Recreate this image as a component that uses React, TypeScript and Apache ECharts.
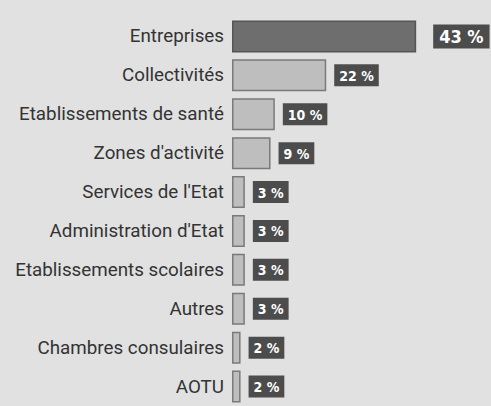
import React, { useEffect, useRef } from "react";
import * as echarts from "echarts";

const categories = [
  "Entreprises",
  "Collectivités",
  "Etablissements de santé",
  "Zones d'activité",
  "Services de l'Etat",
  "Administration d'Etat",
  "Etablissements scolaires",
  "Autres",
  "Chambres consulaires",
  "AOTU",
];
const values = [43, 22, 10, 9, 3, 3, 3, 3, 2, 2];

export default function App() {
  const ref = useRef<HTMLDivElement>(null);
  useEffect(() => {
    document.body.style.margin = "0";
    const chart = echarts.init(ref.current!, null, { renderer: "svg" });
    const catRev = [...categories].reverse();
    const valRev = [...values].reverse();
    const maxVal = Math.max(...values);
    const font = "'DejaVu Sans Condensed', 'Noto Sans', sans-serif";
    chart.setOption({
      animation: false,
      backgroundColor: "#e1e1e1",
      grid: { left: 232, width: 257, top: 17, bottom: -5 },
      xAxis: { type: "value", min: 0, max: 60, show: false },
      yAxis: {
        type: "category",
        data: catRev,
        axisLine: { show: false },
        axisTick: { show: false },
        axisLabel: {
          margin: 8,
          color: "#333333",
          fontSize: 18.8,
          fontFamily: "Roboto, 'Noto Sans', sans-serif",
        },
      },
      series: [
        {
          type: "bar",
          barWidth: 32,
          data: valRev.map((v) => {
            const first = v === maxVal;
            return {
              value: v,
              itemStyle: {
                color: first ? "#6e6e6e" : "#bebebe",
                borderColor: first ? "#555555" : "#7a7a7a",
                borderWidth: 1.5,
              },
              label: { distance: first ? 17 : 8 },
            };
          }),
          label: {
            show: true,
            position: "right",
            formatter: (p: any) =>
              p.value === maxVal ? `{big|${p.value} %}` : `{small|${p.value} %}`,
            rich: {
              big: {
                color: "#ffffff",
                fontWeight: "bold",
                fontSize: 18,
                fontFamily: font,
                backgroundColor: "#4c4c4c",
                height: 23,
                lineHeight: 23,
                padding: [1, 6, 0, 6],
              },
              small: {
                color: "#ffffff",
                fontWeight: "bold",
                fontSize: 14,
                fontFamily: font,
                backgroundColor: "#4c4c4c",
                height: 21,
                lineHeight: 21,
                padding: [1, 5, 0, 5],
              },
            },
          },
        },
      ],
    });
    return () => chart.dispose();
  }, []);
  return <div ref={ref} style={{ width: 491, height: 406 }} />;
}
